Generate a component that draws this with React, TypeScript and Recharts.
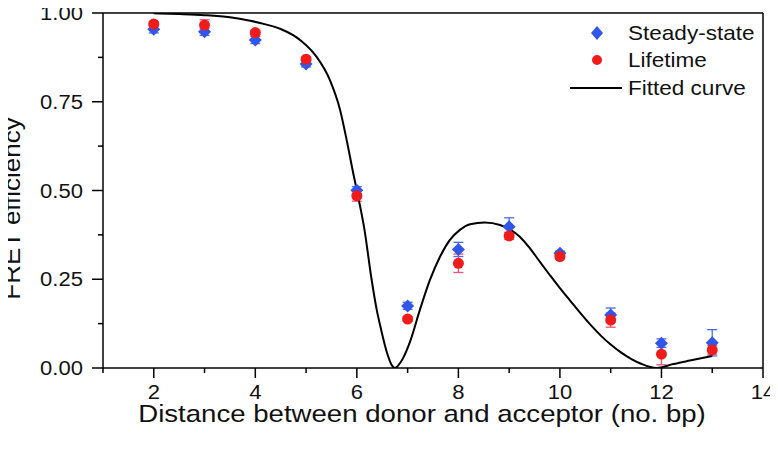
import React from "react";
import {
  ComposedChart,
  XAxis,
  YAxis,
  Scatter,
  Line,
  ErrorBar,
  ReferenceLine,
  Legend,
  Label,
} from "recharts";

const distances = [2, 3, 4, 5, 6, 7, 8, 9, 10, 11, 12, 13];
const steadyState = [0.954, 0.947, 0.924, 0.856, 0.501, 0.175, 0.334, 0.398, 0.323, 0.149, 0.07, 0.071];
const steadyErr = [0.01, 0.01, 0.01, 0.008, 0.01, 0.01, 0.02, 0.025, 0.006, 0.02, 0.012, 0.037];
const lifetime = [0.969, 0.966, 0.945, 0.87, 0.485, 0.138, 0.295, 0.372, 0.314, 0.135, 0.039, 0.051];
const lifetimeErr = [0.006, 0.015, 0.006, 0.006, 0.015, 0.006, 0.026, 0.01, 0.006, 0.02, 0.03, 0.012];

// fitted curve
const curveX = [2, 2.5, 3, 3.5, 3.9, 4.2, 4.5, 4.9, 5.2, 5.47, 5.67, 5.8, 5.93, 6, 6.15, 6.29, 6.39, 6.48, 6.6, 6.68, 6.75, 6.82, 6.9, 7.05, 7.24, 7.44, 7.64, 7.83, 8.03, 8.23, 8.52, 8.82, 9.02, 9.21, 9.41, 9.61, 9.8, 10, 10.2, 10.4, 10.6, 10.8, 11, 11.2, 11.4, 11.6, 11.9, 12.23, 12.56, 13];
const curveY = [0.999, 0.997, 0.994, 0.988, 0.978, 0.968, 0.955, 0.922, 0.878, 0.811, 0.727, 0.642, 0.548, 0.5, 0.39, 0.25, 0.165, 0.107, 0.04, 0.01, 0, 0.008, 0.025, 0.075, 0.163, 0.248, 0.314, 0.36, 0.389, 0.405, 0.41, 0.403, 0.39, 0.37, 0.337, 0.298, 0.262, 0.225, 0.19, 0.155, 0.122, 0.092, 0.066, 0.044, 0.026, 0.012, 0, 0.011, 0.021, 0.034];

const xTicks = [1, 2, 3, 4, 5, 6, 7, 8, 9, 10, 11, 12, 13, 14];
const yTicks = [0, 0.125, 0.25, 0.375, 0.5, 0.625, 0.75, 0.875, 1];

const steadyData = distances.map((x, i) => ({ x, y: steadyState[i], err: steadyErr[i] }));
const lifetimeData = distances.map((x, i) => ({ x, y: lifetime[i], err: lifetimeErr[i] }));
const curveData = curveX.map((x, i) => ({ x, y: curveY[i] }));

const FONT = "Arial, 'Liberation Sans', sans-serif";
const BLUE = "#3156e8";
const RED = "#f01c1c";

const XTick = (props: any) => {
  const { x, y, payload } = props;
  const v = payload.value;
  const major = v % 2 === 0;
  return (
    <g>
      <line x1={x} x2={x} y1={y} y2={y + (major ? 10 : 5)} stroke="#000" strokeWidth={1.5} />
      {major && (
        <text transform={`translate(${x},${y + 31}) scale(1.13,1)`} textAnchor="middle" fontSize={19.5} fontFamily={FONT} fill="#111">
          {v}
        </text>
      )}
    </g>
  );
};

const YTick = (props: any) => {
  const { x, y, payload } = props;
  const v = payload.value;
  const major = Math.abs(v * 4 - Math.round(v * 4)) < 1e-6;
  return (
    <g>
      <line x1={x - (major ? 11 : 5)} x2={x} y1={y} y2={y} stroke="#000" strokeWidth={1.5} />
      {major && (
        <text transform={`translate(${x - 20},${y + 7}) scale(1.13,1)`} textAnchor="end" fontSize={19.5} fontFamily={FONT} fill="#111">
          {v.toFixed(2)}
        </text>
      )}
    </g>
  );
};

const Diamond = (props: any) => {
  const { cx, cy } = props;
  if (cx == null || cy == null) return null;
  const r = 6.5;
  return <polygon points={`${cx},${cy - r} ${cx + r},${cy} ${cx},${cy + r} ${cx - r},${cy}`} fill={BLUE} />;
};

const Dot = (props: any) => {
  const { cx, cy } = props;
  if (cx == null || cy == null) return null;
  return <circle cx={cx} cy={cy} r={5.5} fill={RED} />;
};

const LegendBox = () => (
  <svg width={210} height={100}>
    <polygon points="34,13 40,20 34,27 28,20" fill={BLUE} />
    <text transform="translate(65,27) scale(1.1,1)" fontSize={20.5} fontFamily={FONT} fill="#111">Steady-state</text>
    <circle cx={34} cy={47} r={5} fill={RED} />
    <text transform="translate(65,54) scale(1.1,1)" fontSize={20.5} fontFamily={FONT} fill="#111">Lifetime</text>
    <line x1={7} x2={59} y1={75} y2={75} stroke="#000" strokeWidth={2} />
    <text transform="translate(65,82) scale(1.1,1)" fontSize={20.5} fontFamily={FONT} fill="#111">Fitted curve</text>
  </svg>
);

const XLabel = (props: any) => {
  const vb = props.viewBox || {};
  return (
    <text transform={`translate(${vb.x + vb.width / 2 - 11},${vb.y + 54}) scale(1.15,1)`} textAnchor="middle" fontSize={24} fontFamily={FONT} fill="#111">
      Distance between donor and acceptor (no. bp)
    </text>
  );
};

const YLabel = (props: any) => {
  const vb = props.viewBox || {};
  return (
    <text transform={`translate(20,${vb.y + vb.height / 2 + 18}) rotate(-90) scale(1.13,1)`} textAnchor="middle" fontSize={23} fontFamily={FONT} fill="#111">
      FRET efficiency
    </text>
  );
};

export default function App() {
  return (
    <div style={{ width: 778, height: 445, margin: "-8px 0 0 -8px", background: "#fff" }}>
      <ComposedChart width={778} height={445} margin={{ top: 13, right: 15, left: 0, bottom: 0 }}>
        <XAxis
          dataKey="x"
          type="number"
          domain={[1, 14]}
          ticks={xTicks}
          interval={0}
          allowDataOverflow
          height={77}
          tickSize={0}
          tickMargin={0}
          tickLine={false}
          axisLine={{ stroke: "#000", strokeWidth: 1.5 }}
          tick={<XTick />}
        >
          <Label content={<XLabel />} />
        </XAxis>
        <YAxis
          dataKey="y"
          type="number"
          domain={[0, 1]}
          ticks={yTicks}
          interval={0}
          allowDataOverflow
          width={103}
          tickSize={0}
          tickMargin={0}
          tickLine={false}
          axisLine={{ stroke: "#000", strokeWidth: 1.5 }}
          tick={<YTick />}
        >
          <Label content={<YLabel />} />
        </YAxis>
        <ReferenceLine y={1} stroke="#000" strokeWidth={1.5} />
        <ReferenceLine x={14} stroke="#000" strokeWidth={1.5} />
        <Scatter name="Steady-state" data={steadyData} shape={<Diamond />} isAnimationActive={false}>
          <ErrorBar dataKey="err" direction="y" width={5} stroke="#4a6cf0" strokeWidth={1.3} />
        </Scatter>
        <Scatter name="Lifetime" data={lifetimeData} shape={<Dot />} isAnimationActive={false}>
          <ErrorBar dataKey="err" direction="y" width={5} stroke="#f0507a" strokeWidth={1.3} />
        </Scatter>
        <Line
          name="Fitted curve"
          data={curveData}
          dataKey="y"
          type="monotone"
          stroke="#000"
          strokeWidth={2}
          dot={false}
          activeDot={false}
          isAnimationActive={false}
        />
        <Legend
          layout="vertical"
          align="center"
          verticalAlign="middle"
          wrapperStyle={{ position: "absolute", left: 563, top: 13, width: 210, height: 100 }}
          content={<LegendBox />}
        />
      </ComposedChart>
    </div>
  );
}
